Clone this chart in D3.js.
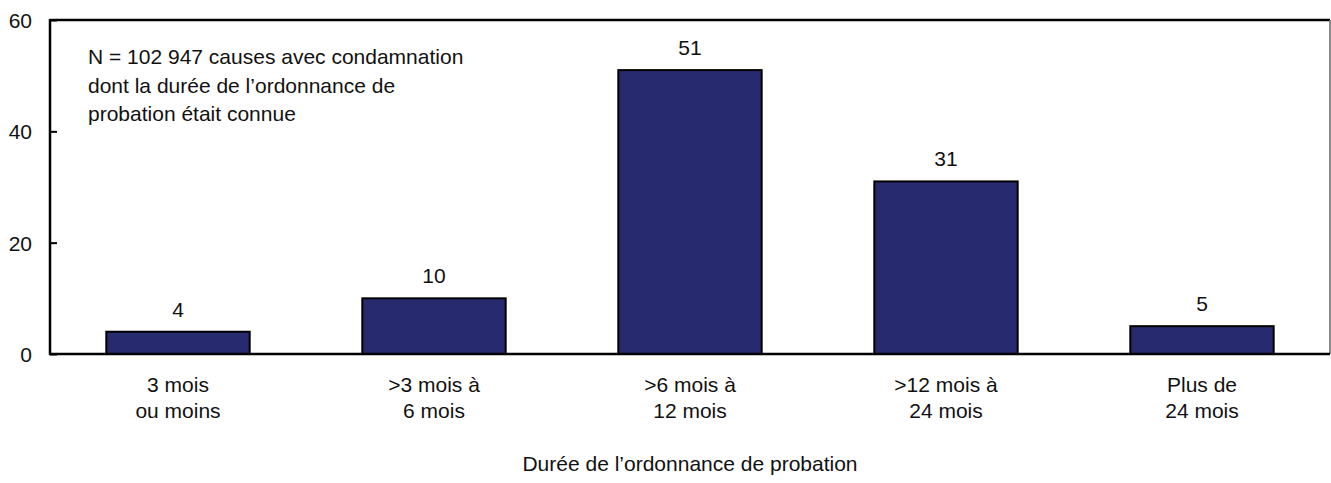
<!DOCTYPE html>
<html>
<head>
<meta charset="utf-8">
<script src="https://cdn.jsdelivr.net/npm/d3@7"></script>
<style>
  body { margin: 0; background: #fff; }
  text { font-family: "Liberation Sans", Arial, sans-serif; fill: #111; }
</style>
</head>
<body>
<svg id="chart" width="1331" height="483"></svg>
<script>
// categories (two-line labels) and shares in percent
var categories = ["3 mois|ou moins", ">3 mois à|6 mois", ">6 mois à|12 mois", ">12 mois à|24 mois", "Plus de|24 mois"];
var values = [4, 10, 51, 31, 5];
var yTicks = [0, 20, 40, 60];
var note = ["N = 102 947 causes avec condamnation", "dont la durée de l’ordonnance de", "probation était connue"];
var xTitle = "Durée de l’ordonnance de probation";

var svg = d3.select("#chart");
var plotL = 50, plotR = 1330, plotT = 20, plotB = 354;
var fs = 21;

var x = d3.scaleBand().domain(categories).range([plotL, plotR]).paddingInner(0.44).paddingOuter(0.22);
var y = d3.scaleLinear().domain([0, 60]).range([plotB, plotT]);

// frame: top black, right grey
svg.append("line").attr("x1", plotL).attr("x2", plotR).attr("y1", plotT).attr("y2", plotT)
  .attr("stroke", "#000").attr("stroke-width", 2.5);
svg.append("line").attr("x1", plotR).attr("x2", plotR).attr("y1", plotT).attr("y2", plotB)
  .attr("stroke", "#666").attr("stroke-width", 1.5);

// bars
svg.selectAll("rect.bar").data(values).enter().append("rect")
  .attr("class", "bar")
  .attr("x", function(d, i) { return x(categories[i]); })
  .attr("width", x.bandwidth())
  .attr("y", function(d) { return y(d); })
  .attr("height", function(d) { return plotB - y(d); })
  .attr("fill", "#272a6f")
  .attr("stroke", "#000")
  .attr("stroke-width", 2);

// value labels
svg.selectAll("text.val").data(values).enter().append("text")
  .attr("class", "val")
  .attr("x", function(d, i) { return x(categories[i]) + x.bandwidth() / 2; })
  .attr("y", function(d) { return y(d) - 15; })
  .attr("text-anchor", "middle")
  .attr("font-size", fs)
  .text(function(d) { return d; });

// y axis (ticks point inward)
var yAxis = d3.axisRight(y).tickValues(yTicks).tickSize(7).tickFormat(d3.format("d"));
var gy = svg.append("g").attr("transform", "translate(" + plotL + ",0)").call(yAxis);
gy.select(".domain").remove();
gy.selectAll(".tick line").attr("stroke", "#000").attr("stroke-width", 2);
gy.selectAll(".tick text").attr("x", -18).attr("text-anchor", "end")
  .attr("font-size", fs).attr("dy", "0.35em")
  .style("font-family", "'Liberation Sans', Arial, sans-serif").attr("fill", "#111");
svg.append("line").attr("x1", plotL).attr("x2", plotL).attr("y1", plotT - 1).attr("y2", plotB + 1)
  .attr("stroke", "#000").attr("stroke-width", 2.5);

// x axis line
svg.append("line").attr("x1", plotL - 1).attr("x2", plotR).attr("y1", plotB).attr("y2", plotB)
  .attr("stroke", "#000").attr("stroke-width", 2.5);

// category labels
var xl = svg.selectAll("text.cat").data(categories).enter().append("text")
  .attr("class", "cat")
  .attr("text-anchor", "middle")
  .attr("font-size", fs)
  .attr("transform", function(d) { return "translate(" + (x(d) + x.bandwidth() / 2) + ",392)"; });
xl.each(function(d) {
  var parts = d.split("|");
  var t = d3.select(this);
  parts.forEach(function(p, i) {
    t.append("tspan").attr("x", 0).attr("dy", i === 0 ? 0 : 25.5).text(p);
  });
});

// axis title
svg.append("text").attr("x", (plotL + plotR) / 2).attr("y", 471)
  .attr("text-anchor", "middle").attr("font-size", fs).text(xTitle);

// note
svg.selectAll("text.note").data(note).enter().append("text")
  .attr("class", "note")
  .attr("x", 88)
  .attr("y", function(d, i) { return 64 + i * 28.5; })
  .attr("font-size", fs)
  .text(function(d) { return d; });
</script>
</body>
</html>
